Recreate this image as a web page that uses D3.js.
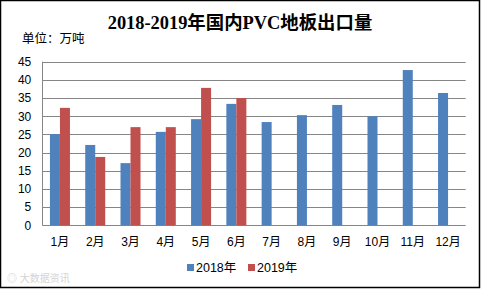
<!DOCTYPE html>
<html><head><meta charset="utf-8">
<script src="https://cdn.jsdelivr.net/npm/d3@7"></script>
<style>body{margin:0;background:#fff}svg{display:block}</style>
</head><body><svg id="c" width="481" height="289"></svg>
<script>
const months = ["1月","2月","3月","4月","5月","6月","7月","8月","9月","10月","11月","12月"];
const seriesNames = ["2018年","2019年"];
const values2018 = [25.1,22.1,17.1,25.7,29.2,33.4,28.4,30.3,33.1,30.0,42.7,36.4];
const values2019 = [32.3,18.8,27.0,27.0,37.8,35.0,null,null,null,null,null,null];
const yTicks = [0,5,10,15,20,25,30,35,40,45];
const colors = ["#4F81BD","#C0504D"];

const svg = d3.select("#c");
svg.append("rect").attr("x",0.5).attr("y",0.5).attr("width",479).attr("height",287)
  .attr("fill","#fff").attr("stroke","#000").attr("stroke-width",1.5);

const L=42.3, R=465.7, T=61.7, B=225.3;
const x = d3.scaleBand().domain(months).range([L,R]).paddingInner(0.433).paddingOuter(0.2165);
const xs = d3.scaleBand().domain(seriesNames).range([0,x.bandwidth()]);
const y = d3.scaleLinear().domain([0,45]).range([B,T]);

const font = "'Liberation Sans','Noto Sans CJK SC',sans-serif";
// grid
svg.append("g").selectAll("line").data(yTicks).join("line")
  .attr("x1",L).attr("x2",R).attr("y1",d=>Math.round(y(d))+0.5).attr("y2",d=>Math.round(y(d))+0.5)
  .attr("stroke","#868686").attr("stroke-width",1);
svg.append("line").attr("x1",Math.round(L)+0.5).attr("x2",Math.round(L)+0.5).attr("y1",y(45)).attr("y2",y(0))
  .attr("stroke","#868686");

// y axis labels
const ya = svg.append("g").attr("transform",`translate(${L},0)`)
  .call(d3.axisLeft(y).tickValues(yTicks).tickSize(0).tickPadding(11));
ya.select(".domain").remove();
ya.selectAll("text").attr("font-family",font).attr("font-size",12).attr("fill","#000");

// bars
const data = [values2018, values2019];
data.forEach((vals,si)=>{
  svg.append("g").selectAll("rect").data(months.map((m,i)=>({m,v:vals[i]})).filter(d=>d.v!=null)).join("rect")
    .attr("x",d=>x(d.m)+xs(seriesNames[si]))
    .attr("width",xs.bandwidth())
    .attr("y",d=>y(d.v)).attr("height",d=>y(0)-y(d.v))
    .attr("fill",colors[si]);
});

// x axis
const xa = svg.append("g").attr("transform",`translate(0,${B})`)
  .call(d3.axisBottom(x).tickSize(0).tickPadding(12));
xa.select(".domain").remove();
xa.selectAll("text").attr("font-family",font).attr("font-size",12).attr("fill","#000");

// title
svg.append("text").attr("x",240).attr("y",29).attr("text-anchor","middle")
  .attr("font-family","'Liberation Serif','Noto Sans CJK SC',serif").attr("font-weight","bold")
  .attr("font-size",18.4).attr("fill","#000").text("2018-2019年国内PVC地板出口量");
svg.append("text").attr("x",22).attr("y",43).attr("font-family",font).attr("font-size",12.5)
  .attr("fill","#000").text("单位：万吨");

// legend
const lg = svg.append("g");
const lx = [187,248];
seriesNames.forEach((n,i)=>{
  lg.append("rect").attr("x",lx[i]).attr("y",264).attr("width",7).attr("height",7).attr("fill",colors[i]);
  lg.append("text").attr("x",lx[i]+9).attr("y",272).attr("font-family",font).attr("font-size",12.5)
    .attr("fill","#000").text(n);
});

// watermark
svg.append("text").attr("x",7).attr("y",282).attr("font-family",font).attr("font-size",10)
  .attr("fill","#d4d4d4").text("◎ 大数据资讯");
</script></body></html>
